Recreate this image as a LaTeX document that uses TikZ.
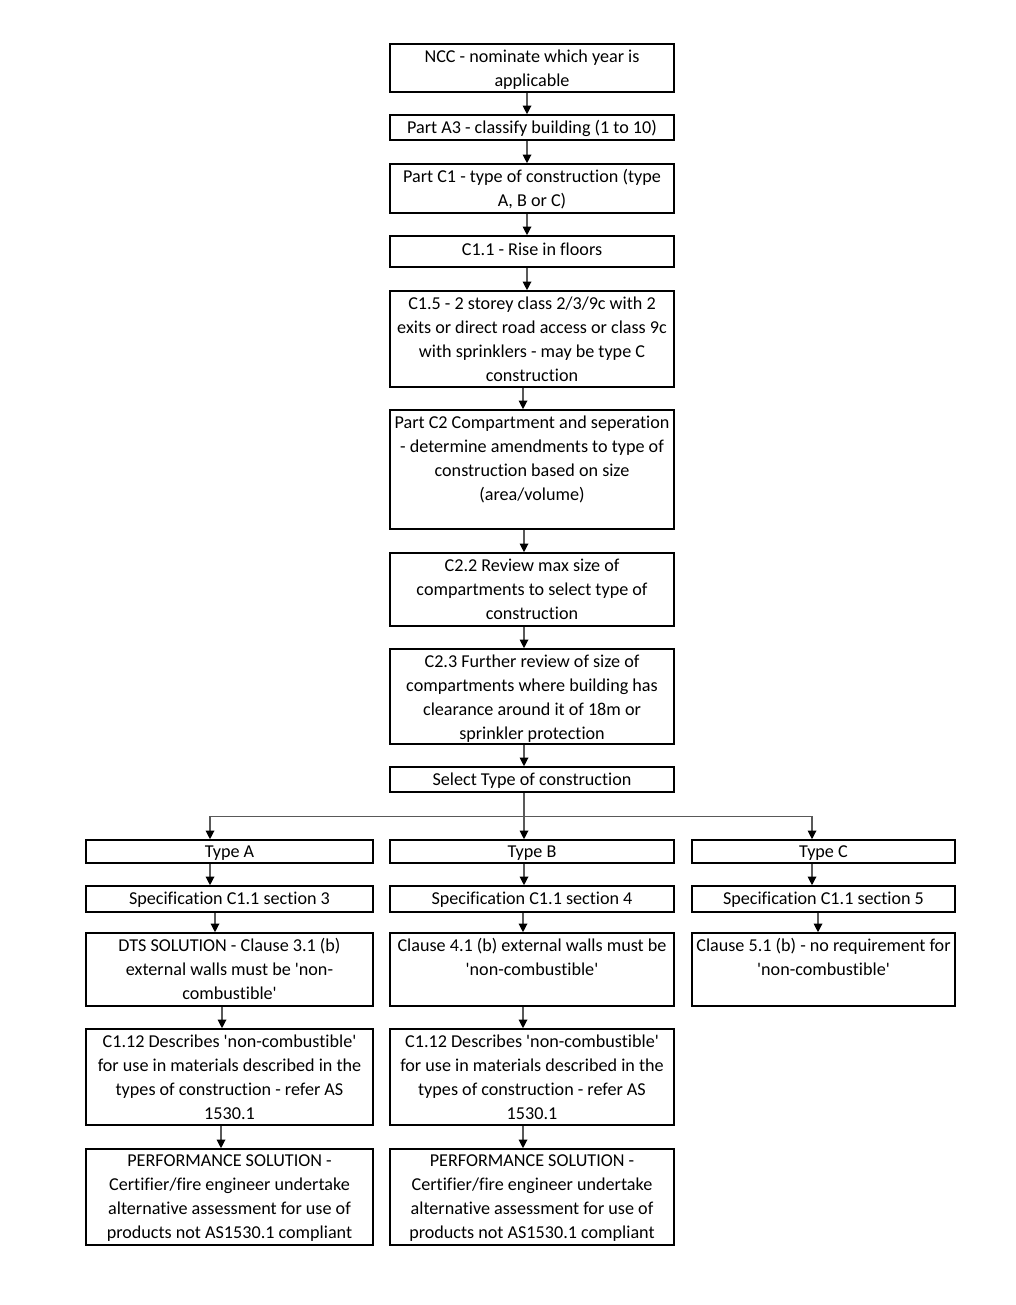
\documentclass[tikz,border=0pt]{standalone}
\usepackage{fontspec}
\newfontfamily\bodyfont{Carlito}[Ligatures=NoCommon]
\usetikzlibrary{arrows.meta,fit,calc}
\newcommand{\flowtext}[1]{\parbox[t]{230pt}{\centering\bodyfont\fontsize{13.6}{18}\selectfont #1}}
\begin{document}
\begin{tikzpicture}[x=0.75pt,y=-0.75pt,
  box/.style={draw=black, line width=1.2pt, inner sep=0pt, rectangle},
  txt/.style={inner sep=0pt, anchor=base, text=black},
  arr/.style={draw=black!65, line width=0.9pt, -{Triangle[width=6.5pt,length=6.5pt,color=black]}},
  lin/.style={draw=black!65, line width=0.9pt}]
\fill[white] (0,0) rectangle (1016,1305);
\useasboundingbox (0,0) rectangle (1016,1305);

% centre column
\node[box, fit={(390,44) (674,92)}] (n1) {};
\node[txt] (t1) at ($(n1.north)+(0,19)$) {\flowtext{NCC - nominate which year is\\applicable}};
\node[box, fit={(390,115) (674,140)}] (n2) {};
\node[txt] (t2) at ($(n2.north)+(0,19)$) {\flowtext{Part A3 - classify building (1 to 10)}};
\node[box, fit={(390,164) (674,213)}] (n3) {};
\node[txt] (t3) at ($(n3.north)+(0,19)$) {\flowtext{Part C1 - type of construction (type\\A, B or C)}};
\node[box, fit={(390,236) (674,267)}] (n4) {};
\node[txt] (t4) at ($(n4.north)+(0,20)$) {\flowtext{C1.1 - Rise in floors}};
\node[box, fit={(390,291) (674,387)}] (n5) {};
\node[txt] (t5) at ($(n5.north)+(0,19)$) {\flowtext{C1.5 - 2 storey class 2/3/9c with 2\\exits or direct road access or class 9c\\with sprinklers - may be type C\\construction}};
\node[box, fit={(390,410) (674,529)}] (n6) {};
\node[txt] (t6) at ($(n6.north)+(0,19)$) {\flowtext{Part C2 Compartment and seperation\\- determine amendments to type of\\construction based on size\\(area/volume)}};
\node[box, fit={(390,553) (674,626)}] (n7) {};
\node[txt] (t7) at ($(n7.north)+(0,19)$) {\flowtext{C2.2 Review max size of\\compartments to select type of\\construction}};
\node[box, fit={(390,649) (674,744)}] (n8) {};
\node[txt] (t8) at ($(n8.north)+(0,19)$) {\flowtext{C2.3 Further review of size of\\compartments where building has\\clearance around it of 18m or\\sprinkler protection}};
\node[box, fit={(390,767) (674,792)}] (n9) {};
\node[txt] (t9) at ($(n9.north)+(0,19.5)$) {\flowtext{Select Type of construction}};

% type row
\node[box, fit={(86,840) (373,863)}] (ta) {};
\node[txt] (tta) at ($(ta.north)+(0,18.5)$) {\flowtext{Type A}};
\node[box, fit={(390,840) (674,863)}] (tb) {};
\node[txt] (ttb) at ($(tb.north)+(0,18.5)$) {\flowtext{Type B}};
\node[box, fit={(692,840) (955,863)}] (tc) {};
\node[txt] (ttc) at ($(tc.north)+(0,18.5)$) {\flowtext{Type C}};

% specification row
\node[box, fit={(86,886) (373,912)}] (sa) {};
\node[txt] (tsa) at ($(sa.north)+(0,19.5)$) {\flowtext{Specification C1.1 section 3}};
\node[box, fit={(390,886) (674,912)}] (sb) {};
\node[txt] (tsb) at ($(sb.north)+(0,19.5)$) {\flowtext{Specification C1.1 section 4}};
\node[box, fit={(692,886) (955,912)}] (sc) {};
\node[txt] (tsc) at ($(sc.north)+(0,19.5)$) {\flowtext{Specification C1.1 section 5}};

% clause row
\node[box, fit={(86,933) (373,1006)}] (ca) {};
\node[txt] (tca) at ($(ca.north)+(0,19.5)$) {\flowtext{DTS SOLUTION - Clause 3.1 (b)\\external walls must be 'non-\\combustible'}};
\node[box, fit={(390,933) (674,1006)}] (cb) {};
\node[txt] (tcb) at ($(cb.north)+(0,19.5)$) {\flowtext{Clause 4.1 (b) external walls must be\\'non-combustible'}};
\node[box, fit={(692,933) (955,1006)}] (cc) {};
\node[txt] (tcc) at ($(cc.north)+(0,19.5)$) {\flowtext{Clause 5.1 (b) - no requirement for\\'non-combustible'}};

% C1.12 row
\node[box, fit={(86,1029) (373,1125)}] (da) {};
\node[txt] (tda) at ($(da.north)+(0,19.5)$) {\flowtext{C1.12 Describes 'non-combustible'\\for use in materials described in the\\types of construction - refer AS\\1530.1}};
\node[box, fit={(390,1029) (674,1125)}] (db) {};
\node[txt] (tdb) at ($(db.north)+(0,19.5)$) {\flowtext{C1.12 Describes 'non-combustible'\\for use in materials described in the\\types of construction - refer AS\\1530.1}};

% performance row
\node[box, fit={(86,1149) (373,1245)}] (pa) {};
\node[txt] (tpa) at ($(pa.north)+(0,18.5)$) {\flowtext{PERFORMANCE SOLUTION -\\Certifier/fire engineer undertake\\alternative assessment for use of\\products not AS1530.1 compliant}};
\node[box, fit={(390,1149) (674,1245)}] (pb) {};
\node[txt] (tpb) at ($(pb.north)+(0,18.5)$) {\flowtext{PERFORMANCE SOLUTION -\\Certifier/fire engineer undertake\\alternative assessment for use of\\products not AS1530.1 compliant}};

% connectors centre column
\draw[arr] ($(n1.south)+(-5,0)$) -- ($(n2.north)+(-5,0)$);
\draw[arr] ($(n2.south)+(-5,0)$) -- ($(n3.north)+(-5,0)$);
\draw[arr] ($(n3.south)+(-5,0)$) -- ($(n4.north)+(-5,0)$);
\draw[arr] ($(n4.south)+(-5,0)$) -- ($(n5.north)+(-5,0)$);
\draw[arr] ($(n5.south)+(-9,0)$) -- ($(n6.north)+(-9,0)$);
\draw[arr] ($(n6.south)+(-8,0)$) -- ($(n7.north)+(-8,0)$);
\draw[arr] ($(n7.south)+(-8,0)$) -- ($(n8.north)+(-8,0)$);
\draw[arr] ($(n8.south)+(-8,0)$) -- ($(n9.north)+(-8,0)$);
\draw[arr] ($(n9.south)+(-8,0)$) -- ($(tb.north)+(-8,0)$);
\coordinate (split) at ($(n9.south)+(-8,24)$);
\draw[arr] (split) -| ($(ta.north)+(-19.5,0)$);
\draw[arr] (split) -| ($(tc.north)+(-11.5,0)$);

% column B
\draw[arr] ($(tb.south)+(-8,0)$) -- ($(sb.north)+(-8,0)$);
\draw[arr] ($(sb.south)+(-9,0)$) -- ($(cb.north)+(-9,0)$);
\draw[arr] ($(cb.south)+(-9,0)$) -- ($(db.north)+(-9,0)$);
\draw[arr] ($(db.south)+(-9,0)$) -- ($(pb.north)+(-9,0)$);

% column A
\draw[arr] ($(ta.south)+(-19.5,0)$) -- ($(sa.north)+(-19.5,0)$);
\draw[arr] ($(sa.south)+(-14.5,0)$) -- ($(ca.north)+(-14.5,0)$);
\draw[arr] ($(ca.south)+(-7.5,0)$) -- ($(da.north)+(-7.5,0)$);
\draw[arr] ($(da.south)+(-8.5,0)$) -- ($(pa.north)+(-8.5,0)$);

% column C
\draw[arr] ($(tc.south)+(-11.5,0)$) -- ($(sc.north)+(-11.5,0)$);
\draw[arr] ($(sc.south)+(-5.5,0)$) -- ($(cc.north)+(-5.5,0)$);
\end{tikzpicture}
\end{document}
